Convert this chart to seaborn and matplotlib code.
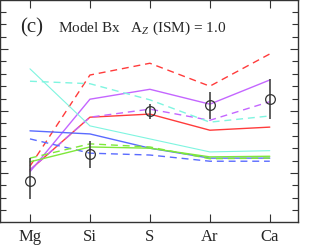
import numpy as np
import pandas as pd
import matplotlib
matplotlib.use("Agg")
import matplotlib.pyplot as plt
from matplotlib.ticker import MultipleLocator
import seaborn as sns

sns.set_style("ticks")
plt.rcParams["font.family"] = ["Liberation Serif", "DejaVu Serif"]
plt.rcParams["mathtext.fontset"] = "custom"
plt.rcParams["mathtext.it"] = "Liberation Serif:italic"
plt.rcParams["mathtext.rm"] = "Liberation Serif"

elements = ["Mg", "Si", "S", "Ar", "Ca"]

# model curves (arbitrary linear units)
red_dash = [1.11, 2.58, 2.77, 2.40, 2.92]
red_solid = [1.05, 1.90, 1.95, 1.69, 1.74]
purple_solid = [1.02, 2.19, 2.35, 2.11, 2.50]
purple_dash = [1.05, 1.90, 2.03, 1.85, 2.15]
cyan_solid = [2.68, 1.76, 1.55, 1.34, 1.36]
cyan_dash = [2.48, 2.44, 2.18, 1.82, 1.92]
blue_solid = [1.68, 1.63, 1.40, 1.24, 1.24]
blue_dash = [1.55, 1.32, 1.29, 1.19, 1.19]
green_solid = [1.18, 1.42, 1.40, 1.26, 1.27]
green_dash = [1.24, 1.47, 1.42, 1.23, 1.24]

# observed values with asymmetric errors
obs = [0.87, 1.31, 2.00, 2.10, 2.19]
obs_lo = [0.58, 1.08, 1.87, 1.87, 1.87]
obs_hi = [1.24, 1.52, 2.11, 2.31, 2.52]

series = [
    (red_dash, "#ff3b3b", "--", 1.0),
    (red_solid, "#ff3b3b", "-", 1.0),
    (purple_solid, "#c466ff", "-", 1.0),
    (purple_dash, "#c466ff", "--", 1.0),
    (cyan_solid, "#7ff5e0", "-", 0.8),
    (cyan_dash, "#7ff5e0", "--", 1.0),
    (blue_solid, "#5a6bff", "-", 1.0),
    (blue_dash, "#5a6bff", "--", 1.0),
    (green_solid, "#7ee83a", "-", 1.0),
    (green_dash, "#7ee83a", "--", 1.0),
]

fig = plt.figure(figsize=(3.12, 2.46), dpi=100)
ax = fig.add_axes([0.0, 0.0976, 0.955, 0.9024])

x = np.arange(len(elements))
for vals, col, ls, lw in series:
    df = pd.DataFrame({"x": x, "y": vals})
    sns.lineplot(data=df, x="x", y="y", color=col, lw=lw, ax=ax)
    if ls == "--":
        ax.lines[-1].set_dashes((5, 3.5))

obs = np.array(obs)
yerr = np.vstack([obs - np.array(obs_lo), np.array(obs_hi) - obs])
ax.errorbar(x, obs, yerr=yerr, fmt="o", mfc="none", mec="#333333", ms=7,
            mew=0.9, ecolor="#444444", elinewidth=1.2, capsize=0, zorder=5)

ax.set_xlim(-0.5, 4.47)
ax.set_ylim(0.21, 3.79)
ax.set_xticks(x)
ax.set_xticklabels(elements, fontsize=12)
ax.yaxis.set_major_locator(MultipleLocator(1))
ax.yaxis.set_minor_locator(MultipleLocator(0.2))
ax.set_yticklabels([])
ax.tick_params(which="both", direction="in", top=True, right=True, color="#333333")
ax.tick_params(which="major", length=6, width=0.8)
ax.tick_params(which="minor", length=4, width=0.8)
ax.tick_params(axis="x", pad=5)
ax.set_xlabel("")
ax.set_ylabel("")
for s in ax.spines.values():
    s.set_color("#333333")
    s.set_linewidth(1.0)

ax.text(0.066, 0.874, "(c)", transform=ax.transAxes, fontsize=15,
        va="center", ha="left")
ax.text(0.193, 0.874, r"Model Bx   A$_Z$ (ISM) = 1.0", transform=ax.transAxes,
        fontsize=11, va="center", ha="left")

fig.savefig("out.png", dpi=100)
